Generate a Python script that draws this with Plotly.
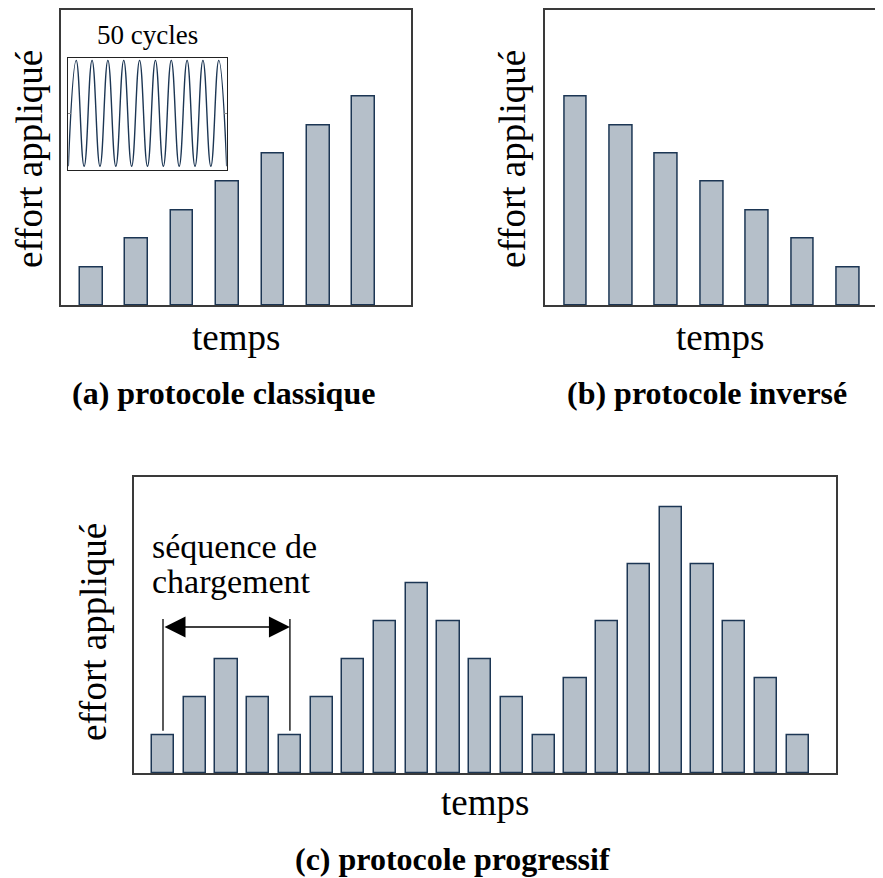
import plotly.graph_objects as go

# ---------------- data ----------------
steps_ab = [1, 2, 3, 4, 5, 6, 7]
effort_a = [0.4, 0.7, 1.0, 1.3, 1.6, 1.9, 2.2]
effort_b = [2.2, 1.9, 1.6, 1.3, 1.0, 0.7, 0.4]
steps_c = list(range(1, 22))
effort_c = [0.4, 0.8, 1.2, 0.8, 0.4, 0.8, 1.2, 1.6, 2.0, 1.6, 1.2, 0.8, 0.4,
            1.0, 1.6, 2.2, 2.8, 2.2, 1.6, 1.0, 0.4]
inset_t = [0.0, 0.5, 1.0, 1.5, 2.0, 2.5, 3.0, 3.5, 4.0, 4.5, 5.0, 5.5, 6.0, 6.5,
           7.0, 7.5, 8.0, 8.5, 9.0, 9.5, 10.0]
inset_signal = [-1, 1, -1, 1, -1, 1, -1, 1, -1, 1, -1, 1, -1, 1, -1, 1, -1, 1, -1, 1, -1]

x_label = "temps"
y_label = "effort appliqué"
captions = ["(a) protocole classique", "(b) protocole inversé", "(c) protocole progressif"]
inset_label = "50 cycles"
seq_label = ["séquence de", "chargement"]

# ---------------- style ----------------
OFF = 8                      # page body margin
W, H = 883 - OFF, 878 - OFF
FONT = "Liberation Serif"
BAR_FILL = "#b5bfc9"
BAR_EDGE = "#1c3654"
AXIS_COL = "#3a3a3a"


def px(x):
    return (x - OFF) / W


def py(y):
    return 1 - (y - OFF) / H


fig = go.Figure()

bar_style = dict(marker=dict(color=BAR_FILL, line=dict(color=BAR_EDGE, width=1.5)),
                 showlegend=False, hoverinfo="skip")

fig.add_trace(go.Bar(x=steps_ab, y=effort_a, width=0.5, xaxis="x", yaxis="y", **bar_style))
fig.add_trace(go.Bar(x=steps_ab, y=effort_b, width=0.5, xaxis="x2", yaxis="y2", **bar_style))
fig.add_trace(go.Bar(x=steps_c, y=effort_c, width=0.7, xaxis="x3", yaxis="y3", **bar_style))
fig.add_trace(go.Scatter(x=inset_t, y=inset_signal, mode="lines", xaxis="x4", yaxis="y4",
                         line=dict(color="#1c3654", width=1.4, shape="spline", smoothing=1.3),
                         showlegend=False, hoverinfo="skip"))

ax_common = dict(showgrid=False, zeroline=False, showticklabels=False, ticks="",
                 showline=True, linecolor=AXIS_COL, linewidth=1.5, fixedrange=True)

YR = [0, 3.12]
fig.update_layout(
    width=W, height=H, autosize=False,
    margin=dict(l=0, r=0, t=0, b=0),
    paper_bgcolor="white", plot_bgcolor="white",
    bargap=0,
    xaxis=dict(domain=[px(61), px(411)], range=[0.333, 8.04], mirror=True, anchor="y", **ax_common),
    yaxis=dict(domain=[py(305), py(9.5)], range=YR, mirror=True, anchor="x", **ax_common),
    xaxis2=dict(domain=[px(544.7), 1.0], range=[0.315, 7.771], mirror=True, anchor="y2", **ax_common),
    yaxis2=dict(domain=[py(305), py(9.5)], range=YR, mirror=False, anchor="x2", **ax_common),
    xaxis3=dict(domain=[px(134), px(835.7)], range=[0.086, 22.2], mirror=True, anchor="y3", **ax_common),
    yaxis3=dict(domain=[py(773), py(477.3)], range=YR, mirror=True, anchor="x3", **ax_common),
    xaxis4=dict(domain=[px(68.3), px(226.7)], range=[0, 10], mirror=True, anchor="y4",
                showgrid=False, zeroline=False, showticklabels=False, ticks="",
                showline=True, linecolor="#222222", linewidth=1.2, fixedrange=True),
    yaxis4=dict(domain=[py(170), py(57.7)], range=[-1.07, 1.05], mirror="ticks", anchor="x4",
                showgrid=False, zeroline=False, showticklabels=False, ticks="inside",
                tickvals=[0], ticklen=3, tickcolor="#888888",
                showline=True, linecolor="#222222", linewidth=1.2, fixedrange=True),
)

ann = []


def text(x, y, s, size, bold=False, angle=0, xanchor="center"):
    ann.append(dict(x=px(x), y=py(y), xref="paper", yref="paper", text=f"<b>{s}</b>" if bold else s,
                    showarrow=False, xanchor=xanchor, yanchor="middle", textangle=angle,
                    borderpad=0,
                    font=dict(family=FONT, size=size, color="black")))


# axis labels
text(236, 337, x_label, 37)
text(720, 337, x_label, 37)
text(485, 802, x_label, 37)
text(30, 159, y_label, 37, angle=-90)
text(513, 159, y_label, 37, angle=-90)
text(93, 632, y_label, 37, angle=-90)
# captions
text(223, 393, captions[0], 32, bold=True)
text(707, 393, captions[1], 32, bold=True)
text(452, 859, captions[2], 32, bold=True)
# inset title
text(147.5, 35, inset_label, 27)
# sequence label
text(151, 546, seq_label[0], 34, xanchor="left")
text(151, 581, seq_label[1], 34, xanchor="left")

# double arrow across one loading sequence (bar 1 to bar 5)
ann.append(dict(x=steps_c[4], y=1.54, ax=steps_c[0], ay=1.54, xref="x3", yref="y3",
                axref="x3", ayref="y3", text="", showarrow=True, arrowside="end+start",
                arrowhead=2, arrowsize=3.0, arrowwidth=1.4, arrowcolor="black"))
fig.update_layout(annotations=ann)

# vertical delimiters of the sequence
for xi in (steps_c[0], steps_c[4]):
    fig.add_shape(type="line", xref="x3", yref="y3", x0=xi, x1=xi, y0=0.445, y1=1.625,
                  line=dict(color="black", width=1.3))

fig.write_html("out.html")
